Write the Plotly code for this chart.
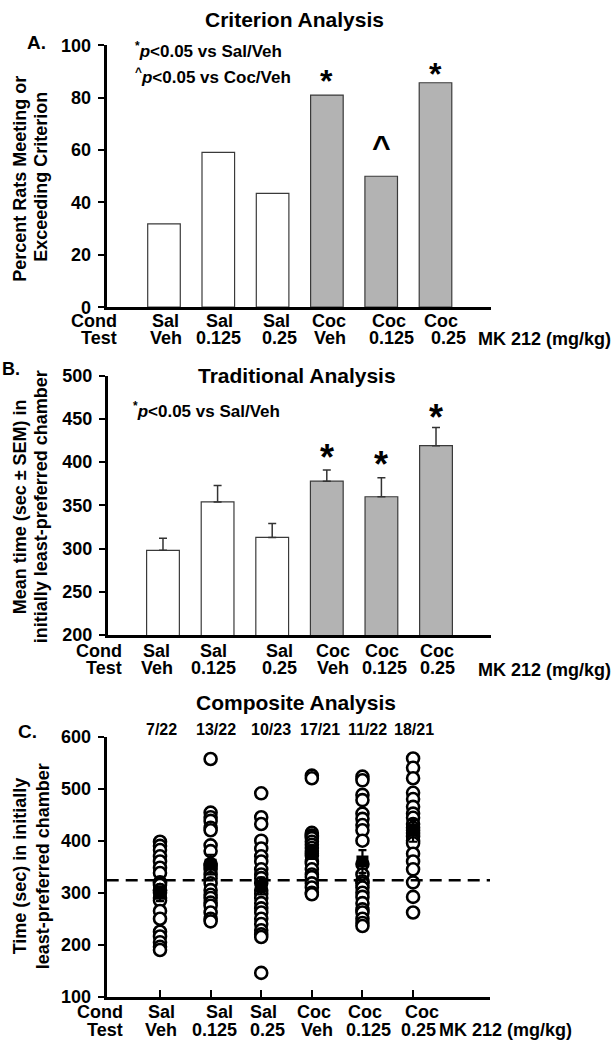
import plotly.graph_objects as go

# ---------------- data ----------------
positions = [1, 2, 3, 4, 5, 6]
cond_labels = ["Sal", "Sal", "Sal", "Coc", "Coc", "Coc"]
test_labels = ["Veh", "0.125", "0.25", "Veh", "0.125", "0.25"]

criterion_pct = [31.8, 59.1, 43.5, 81.0, 50.0, 85.7]
criterion_marks = ["", "", "", "*", "^", "*"]

traditional_mean = [298, 354, 313, 378, 360, 419]
traditional_sem = [14, 19, 16, 13, 22, 21]
traditional_marks = ["", "", "", "*", "*", "*"]

composite_sal_veh = [398, 390, 382, 370, 360, 348, 338, 320, 318, 315, 305,
                     305, 300, 290, 285, 265, 250, 225, 216, 205, 196, 190]
composite_sal_0125 = [557, 454, 445, 438, 425, 420, 391, 380, 355, 352, 345,
                      335, 328, 318, 305, 296, 290, 281, 275, 262, 250, 245]
composite_sal_025 = [491, 445, 432, 400, 385, 370, 360, 345, 335, 328, 318, 305,
                     298, 290, 280, 270, 262, 250, 240, 228, 220, 215, 146]
composite_coc_veh = [525, 520, 415, 410, 408, 405, 398, 392, 386, 380, 376,
                     371, 360, 356, 345, 335, 330, 318, 310, 300, 297]
composite_coc_0125 = [523, 516, 488, 478, 452, 442, 430, 420, 400, 355, 335,
                      322, 318, 310, 300, 292, 280, 268, 262, 250, 242, 236]
composite_coc_025 = [558, 540, 520, 492, 480, 465, 452, 444, 432, 425, 420,
                     415, 408, 400, 395, 375, 360, 345, 320, 292, 262]
composite_groups = [composite_sal_veh, composite_sal_0125, composite_sal_025,
                    composite_coc_veh, composite_coc_0125, composite_coc_025]
composite_counts = ["7/22", "13/22", "10/23", "17/21", "11/22", "18/21"]
criterion_time = 324

# ---------------- style ----------------
W, H = 614, 1050
FONT = "Liberation Sans, Arial, Helvetica, sans-serif"
bar_colors = ["white", "white", "white", "#b3b3b3", "#b3b3b3", "#b3b3b3"]


def px(p):
    return p / W


def py(p):
    return 1 - p / H


fig = go.Figure()

# Panel A bars
fig.add_trace(go.Bar(x=positions, y=criterion_pct, width=0.6,
                     marker=dict(color=bar_colors, line=dict(color="#3a3a3a", width=1.2)),
                     xaxis="x", yaxis="y", hoverinfo="skip"))
# Panel B bars
fig.add_trace(go.Bar(x=positions, y=traditional_mean, width=0.6,
                     marker=dict(color=bar_colors, line=dict(color="#3a3a3a", width=1.2)),
                     error_y=dict(type="data", array=traditional_sem,
                                  arrayminus=[0] * len(traditional_sem), symmetric=False,
                                  color="#333333", thickness=1.5, width=4),
                     xaxis="x2", yaxis="y2", hoverinfo="skip"))
# Panel C scatter
for pos, vals in zip(positions, composite_groups):
    fig.add_trace(go.Scatter(x=[pos] * len(vals), y=vals, mode="markers",
                             marker=dict(symbol="circle", size=12, color="white",
                                         line=dict(color="black", width=2.6)),
                             xaxis="x3", yaxis="y3", hoverinfo="skip"))
fig.add_trace(go.Scatter(x=positions, y=traditional_mean, mode="markers",
                         marker=dict(symbol="square", size=12, color="black"),
                         error_y=dict(type="data", array=traditional_sem, color="black",
                                      thickness=2.2, width=4),
                         xaxis="x3", yaxis="y3", hoverinfo="skip"))

tickfont = dict(family=FONT, size=18, color="black", weight="bold")


def xaxis_cfg(dom, rng, anchor, ticks=""):
    return dict(domain=dom, range=rng, anchor=anchor, showline=True, linewidth=3,
                linecolor="black", showgrid=False, zeroline=False,
                showticklabels=False, ticks=ticks, tickvals=positions,
                ticklen=7, tickwidth=2, tickcolor="black")


def yaxis_cfg(dom, rng, dtick, anchor):
    return dict(domain=dom, range=rng, anchor=anchor, dtick=dtick, tick0=rng[0],
                showline=True, linewidth=3, linecolor="black", showgrid=False,
                zeroline=False, ticks="outside", ticklen=6, tickwidth=2,
                tickcolor="black", tickfont=tickfont, ticklabelstandoff=3)


fig.update_layout(
    width=W, height=H, margin=dict(l=0, r=0, t=0, b=0),
    paper_bgcolor="white", plot_bgcolor="white", showlegend=False,
    xaxis=xaxis_cfg([px(106.7), px(491)], [-0.055, 7.022], "y"),
    yaxis=yaxis_cfg([py(303), py(36)], [0, 100], 20, "x"),
    xaxis2=xaxis_cfg([px(108), px(491)], [-0.007, 7.007], "y2"),
    yaxis2=yaxis_cfg([py(637.3), py(372.7)], [200, 500], 50, "x2"),
    xaxis3=xaxis_cfg([px(106.7), px(490)], [-0.053, 7.52], "y3", ticks="inside"),
    yaxis3=yaxis_cfg([py(1006), py(740.7)], [100, 600], 100, "x3"),
)

fig.add_shape(type="line", xref="x3 domain", x0=0, x1=1, yref="y3",
              y0=criterion_time, y1=criterion_time,
              line=dict(color="black", width=2.5, dash="12px,7px"))

ann = []


def txt(text, x, y, size, xref="paper", yref="paper", xanchor="center",
        yanchor="middle", xshift=0, yshift=0, textangle=0):
    ann.append(dict(text=text, x=x, y=y, xref=xref, yref=yref, xanchor=xanchor,
                    yanchor=yanchor, xshift=xshift, yshift=yshift, textangle=textangle,
                    showarrow=False,
                    font=dict(family=FONT, size=size, color="black", weight="bold")))


# titles
txt("Criterion Analysis", px(294), py(10), 21)
txt("Traditional Analysis", px(297), py(373), 21)
txt("Composite Analysis", px(296), py(705.5), 21)
# panel letters
txt("A.", px(36), py(33), 19)
txt("B.", px(0), py(366), 18, xanchor="left")
txt("C.", px(27), py(736), 19)
# y titles
txt("Percent Rats Meeting or", px(20), py(172), 18, textangle=-90)
txt("Exceeding Criterion", px(41), py(170), 18, textangle=-90)
txt("Mean time (sec ± SEM) in", px(20), py(507), 18, textangle=-90)
txt("initially least-preferred chamber", px(41), py(507), 18, textangle=-90)
txt("Time (sec) in initially", px(20), py(873), 18, textangle=-90)
txt("least-preferred chamber", px(43), py(873), 18, textangle=-90)
# significance notes
txt("<sup>*</sup><i>p</i>&lt;0.05 vs Sal/Veh", px(133), py(41), 17, xanchor="left")
txt("<sup>^</sup><i>p</i>&lt;0.05 vs Coc/Veh", px(133), py(67), 17, xanchor="left")
txt("<sup>*</sup><i>p</i>&lt;0.05 vs Sal/Veh", px(131), py(408), 17, xanchor="left")

# x category labels (two rows) per panel
panels = [
    dict(xref="x", rows=(317, 334), right=119, mk=(476, 335),
         s1=[2, 1, 4, 2, 8, 5], s2=[2.5, 0.6, 7, 3.4, 10.4, 13.3]),
    dict(xref="x2", rows=(653, 671), right=123.5, mk=(476, 673),
         s1=[-6, -4, 7, 6, 1, 1], s2=[-6, -4, 7, 6, 3, 1]),
    dict(xref="x3", rows=(1021.7, 1040), right=125, mk=(437, 1040),
         s1=[1, 8.6, 2.7, 1.7, 2.7, 8.6], s2=[1, 3.5, 6.6, 5.6, 5.6, 5.6]),
]
for p in panels:
    r1, r2 = p["rows"]
    txt("Cond", px(p["right"]), py(r1), 18, xanchor="right")
    txt("Test", px(p["right"]), py(r2), 18, xanchor="right")
    for i, pos in enumerate(positions):
        txt(cond_labels[i], pos, py(r1), 18, xref=p["xref"], xshift=p["s1"][i])
        txt(test_labels[i], pos, py(r2), 18, xref=p["xref"], xshift=p["s2"][i])
    txt("MK 212 (mg/kg)", px(p["mk"][0]), py(p["mk"][1]), 18, xanchor="left")

# significance marks on bars
a_shift = [0, 0, 0, 13.6, 29.4, 8.6]
for pos, v, m, s in zip(positions, criterion_pct, criterion_marks, a_shift):
    if m:
        txt(m, pos, v, 32, xref="x", yref="y", yshift=s)
b_shift = [0, 0, 0, 12.7, 12.7, 9.7]
for pos, v, e, m, s in zip(positions, traditional_mean, traditional_sem,
                           traditional_marks, b_shift):
    if m:
        txt(m, pos, v + e, 36, xref="x2", yref="y2", yshift=s)

# composite counts
c_shift = [1, 5.5, 9.6, 8, 4.7, 1]
for pos, c, s in zip(positions, composite_counts, c_shift):
    txt(c, pos, py(733), 16, xref="x3", xshift=s)

fig.update_layout(annotations=ann)
fig.write_html("out.html", config={"displayModeBar": False},
               post_script="document.body.style.margin='0';"
                           "document.body.style.overflow='hidden';")
